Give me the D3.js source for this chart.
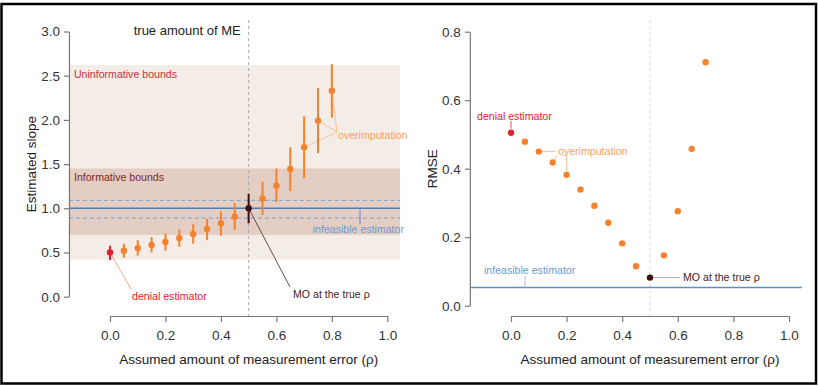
<!DOCTYPE html>
<html>
<head>
<meta charset="utf-8">
<script src="https://cdn.jsdelivr.net/npm/d3@7"></script>
<style>
  body { margin: 0; background: #fff; }
  svg { font-family: "Liberation Sans", Arial, sans-serif; }
</style>
</head>
<body>
<div id="chart"></div>
<script>
// assumed amount of measurement error
const rho = [0, 0.05, 0.1, 0.15, 0.2, 0.25, 0.3, 0.35, 0.4, 0.45, 0.5, 0.55, 0.6, 0.65, 0.7, 0.75, 0.8];
const slope = [0.50, 0.52, 0.55, 0.585, 0.62, 0.665, 0.71, 0.765, 0.83, 0.905, 1.0, 1.11, 1.255, 1.445, 1.69, 1.99, 2.33];
const slopeLo = [0.415, 0.44, 0.465, 0.50, 0.52, 0.565, 0.60, 0.64, 0.69, 0.755, 0.83, 0.925, 1.07, 1.195, 1.34, 1.625, 2.025];
const slopeHi = [0.575, 0.60, 0.64, 0.675, 0.715, 0.76, 0.82, 0.88, 0.965, 1.055, 1.165, 1.30, 1.45, 1.69, 2.04, 2.36, 2.63];

const rhoR = [0, 0.05, 0.1, 0.15, 0.2, 0.25, 0.3, 0.35, 0.4, 0.45, 0.5, 0.55, 0.6, 0.65, 0.7];
const rmse = [0.505, 0.479, 0.45, 0.418, 0.382, 0.339, 0.292, 0.242, 0.182, 0.115, 0.082, 0.147, 0.276, 0.458, 0.711];

const uninformative = [0.42, 2.62];
const informative = [0.70, 1.45];
const infeasible = 1.0;
const infeasibleCI = [0.89, 1.09];
const infeasibleRmse = 0.053;
const trueRho = 0.5;

const xTicks = [0, 0.2, 0.4, 0.6, 0.8, 1.0];
const yTicksL = [0, 0.5, 1, 1.5, 2, 2.5, 3];
const yTicksR = [0, 0.2, 0.4, 0.6, 0.8];

const W = 818, H = 386;
const orange = "#f5822a", red = "#e8202e", dark = "#3a1010";
const fmt = d3.format(".1f");

const svg = d3.select("#chart").append("svg")
  .attr("width", W).attr("height", H);

svg.append("rect")
  .attr("x", 1.5).attr("y", 4).attr("width", 814.5).attr("height", 379.5)
  .attr("fill", "none").attr("stroke", "#000").attr("stroke-width", 2.5);

function color(r) {
  if (r === 0) return red;
  if (r === trueRho) return dark;
  return orange;
}

function axes(x, y, yTicks, axisY, yTitle, xMid) {
  const gy = svg.append("g")
    .attr("transform", `translate(${x(-0.148)},0)`)
    .call(d3.axisLeft(y).tickValues(yTicks).tickFormat(fmt).tickSize(5).tickPadding(4).tickSizeOuter(0));
  const gx = svg.append("g")
    .attr("transform", `translate(0,${axisY})`)
    .call(d3.axisBottom(x).tickValues(xTicks).tickFormat(fmt).tickSize(6).tickPadding(8).tickSizeOuter(0));
  [gx, gy].forEach(g => {
    g.select(".domain").attr("stroke", "#777").attr("stroke-width", 1.2);
    g.selectAll(".tick line").attr("stroke", "#777").attr("stroke-width", 1.2);
    g.selectAll(".tick text").attr("fill", "#333").style("font-size", "13.5px").style("font-family", "Liberation Sans, Arial, sans-serif");
  });
  svg.append("text")
    .attr("x", xMid).attr("y", 364).attr("text-anchor", "middle")
    .attr("fill", "#222").style("font-size", "13.5px")
    .text("Assumed amount of measurement error (ρ)");
  const yc = (y.range()[0] + y.range()[1]) / 2;
  svg.append("text")
    .attr("transform", `translate(${x(-0.148) - 33},${yc}) rotate(-90)`)
    .attr("text-anchor", "middle")
    .attr("fill", "#222").style("font-size", "13.5px")
    .text(yTitle);
}

function note(x, y, txt, fill, anchor, size) {
  svg.append("text").attr("x", x).attr("y", y)
    .attr("text-anchor", anchor || "start")
    .attr("fill", fill).style("font-size", size || "10.6px").text(txt);
}
function leader(pts, stroke, w) {
  svg.append("path").attr("d", d3.line()(pts))
    .attr("fill", "none").attr("stroke", stroke).attr("stroke-width", w || 1);
}

// ---------- left panel ----------
const xL = d3.scaleLinear().domain([0, 1]).range([110, 387.3]);
const yL = d3.scaleLinear().domain([0, 3]).range([296.7, 31.5]);
const x0L = xL(-0.148), x1L = xL(1.046);

svg.append("rect")
  .attr("x", x0L).attr("width", x1L - x0L)
  .attr("y", yL(uninformative[1])).attr("height", yL(uninformative[0]) - yL(uninformative[1]))
  .attr("fill", "#f4ece6");
svg.append("rect")
  .attr("x", x0L).attr("width", x1L - x0L)
  .attr("y", yL(informative[1])).attr("height", yL(informative[0]) - yL(informative[1]))
  .attr("fill", "#e4cdc3");

infeasibleCI.forEach(v => {
  svg.append("line").attr("x1", x0L).attr("x2", x1L).attr("y1", yL(v)).attr("y2", yL(v))
    .attr("stroke", "#6fa3d6").attr("stroke-width", 1).attr("stroke-dasharray", "4,3");
});
svg.append("line").attr("x1", x0L).attr("x2", x1L).attr("y1", yL(infeasible)).attr("y2", yL(infeasible))
  .attr("stroke", "#4a7fb5").attr("stroke-width", 1.4);

svg.append("line").attr("x1", xL(trueRho)).attr("x2", xL(trueRho)).attr("y1", 20).attr("y2", 316)
  .attr("stroke", "#aaa").attr("stroke-width", 1).attr("stroke-dasharray", "3,3");

axes(xL, yL, yTicksL, 316, "Estimated slope", (xL(0) + xL(1)) / 2);

note(xL(trueRho) - 8, 35, "true amount of ME", "#222", "end", "13px");
note(x0L + 5, 78, "Uninformative bounds", "#c8323c");
note(x0L + 5, 181, "Informative bounds", "#7a2a2a");

// leaders (behind points)
leader([[xL(0), yL(slope[0])], [131, 289]], "#f7a58a");
leader([[xL(trueRho), yL(1)], [290, 287]], "#6a4a4a");
[14, 15, 16].forEach(i => leader([[xL(rho[i]), yL(slope[i])], [337, 132]], "#f9c29a"));
leader([[360, yL(infeasible) + 1], [360, yL(0.82)]], "#7b7bc8");

const gE = svg.append("g");
gE.selectAll("line").data(rho).join("line")
  .attr("x1", d => xL(d)).attr("x2", d => xL(d))
  .attr("y1", (d, i) => yL(slopeLo[i])).attr("y2", (d, i) => yL(slopeHi[i]))
  .attr("stroke", d => color(d)).attr("stroke-width", 2);
gE.selectAll("circle").data(rho).join("circle")
  .attr("cx", d => xL(d)).attr("cy", (d, i) => yL(slope[i]))
  .attr("r", 3.2).attr("fill", d => color(d));

note(338, 139, "overimputation", "#f7a35c");
note(404, 233, "infeasible estimator", "#6b9bd0", "end");
note(132, 300, "denial estimator", red);
note(293, 298, "MO at the true ρ", "#4a2020");

// ---------- right panel ----------
const xR = d3.scaleLinear().domain([0, 1]).range([511, 789]);
const yR = d3.scaleLinear().domain([0, 0.8]).range([305.7, 31.7]);
const x0R = xR(-0.144), x1R = xR(1.046);

svg.append("line").attr("x1", xR(trueRho)).attr("x2", xR(trueRho)).attr("y1", 20).attr("y2", 316)
  .attr("stroke", "#d4d4d4").attr("stroke-width", 1).attr("stroke-dasharray", "3,3");
svg.append("line").attr("x1", x0R).attr("x2", x1R).attr("y1", yR(infeasibleRmse)).attr("y2", yR(infeasibleRmse))
  .attr("stroke", "#5b8fc4").attr("stroke-width", 1.6);

axes(xR, yR, yTicksR, 316, "RMSE", (xR(0) + xR(1)) / 2);

leader([[xR(0), yR(rmse[0]) - 4], [xR(0), 121]], "#e8505a");
leader([[xR(rhoR[2]), yR(rmse[2])], [556, yR(rmse[2])]], "#f9c29a");
leader([[xR(rhoR[3]), yR(rmse[3])], [557, 155.5]], "#f9c29a");
leader([[xR(rhoR[4]), yR(rmse[4])], [xR(rhoR[4]), 155.5], [563, 155.5]], "#f9c29a");
leader([[525, yR(infeasibleRmse)], [525, 276]], "#b8b8e0");
leader([[xR(trueRho), yR(rmse[10])], [680, yR(rmse[10])]], "#aaa");

svg.append("g").selectAll("circle").data(rhoR).join("circle")
  .attr("cx", d => xR(d)).attr("cy", (d, i) => yR(rmse[i]))
  .attr("r", 3.2).attr("fill", d => color(d));

note(477, 120, "denial estimator", red);
note(558, 155, "overimputation", "#f7a35c");
note(484, 274, "infeasible estimator", "#6b9bd0");
note(683, 281, "MO at the true ρ", "#4a2020");
</script>
</body>
</html>
